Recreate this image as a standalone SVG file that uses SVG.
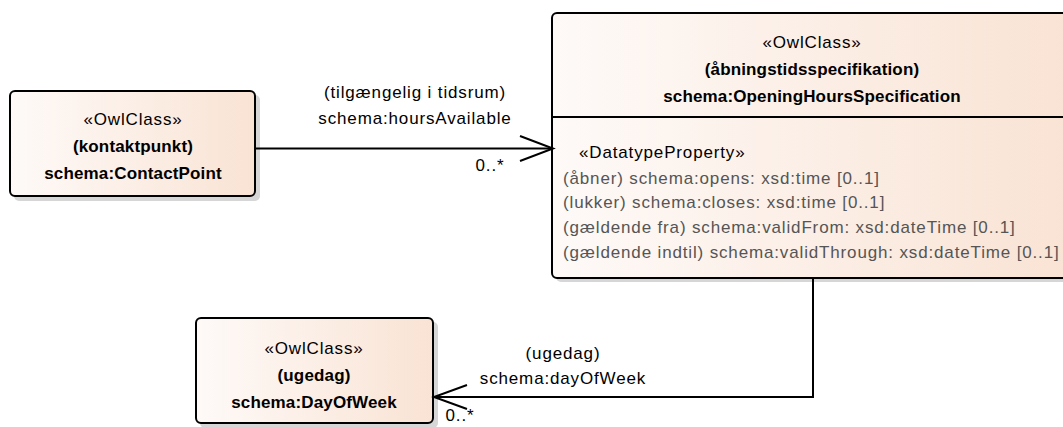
<svg xmlns="http://www.w3.org/2000/svg" width="1063" height="427" viewBox="0 0 1063 427">
<defs>
<linearGradient id="g" x1="0" y1="0" x2="1" y2="0">
<stop offset="0" stop-color="#fefaf8"/>
<stop offset="1" stop-color="#f9e3d4"/>
</linearGradient>
</defs>
<style>
text{font-family:"Liberation Sans",Arial,sans-serif;font-size:17px;fill:#000;letter-spacing:0.85px}
.b{font-weight:bold;letter-spacing:0.15px}
.c{text-anchor:middle}
.a{fill:#555555}
.box{fill:url(#g);stroke:#000;stroke-width:2}
.sh{fill:#d6d6d6}
.ln{fill:none;stroke:#000;stroke-width:2}
</style>
<g id="contactpoint">
<rect class="sh" x="14" y="95" width="246" height="106" rx="5"/>
<rect class="box" x="10" y="91" width="245" height="105" rx="5"/>
<text class="c" x="133" y="125">«OwlClass»</text>
<text class="c b" x="133" y="152">(kontaktpunkt)</text>
<text class="c b" x="133" y="179">schema:ContactPoint</text>
</g>
<g id="openinghours">
<rect class="sh" x="556" y="17" width="520" height="265" rx="5"/>
<rect class="box" x="552" y="13" width="520" height="265" rx="5"/>
<line class="ln" x1="552" y1="117" x2="1072" y2="117"/>
<text class="c" x="812" y="48">«OwlClass»</text>
<text class="c b" x="812" y="75">(åbningstidsspecifikation)</text>
<text class="c b" x="812" y="102">schema:OpeningHoursSpecification</text>
<text x="579" y="158">«DatatypeProperty»</text>
<text class="a" x="563" y="184">(åbner) schema:opens: xsd:time [0..1]</text>
<text class="a" x="563" y="208">(lukker) schema:closes: xsd:time [0..1]</text>
<text class="a" x="563" y="233">(gældende fra) schema:validFrom: xsd:dateTime [0..1]</text>
<text class="a" x="563" y="258">(gældende indtil) schema:validThrough: xsd:dateTime [0..1]</text>
</g>
<g id="dayofweek">
<rect class="sh" x="200" y="322" width="238" height="106" rx="5"/>
<rect class="box" x="196" y="318" width="237" height="105" rx="5"/>
<text class="c" x="314" y="354">«OwlClass»</text>
<text class="c b" x="314" y="381">(ugedag)</text>
<text class="c b" x="314" y="408">schema:DayOfWeek</text>
</g>
<g id="connectors">
<polyline class="ln" points="255,148.5 553,148.5"/>
<polyline class="ln" points="520,136 553,148.5 520,161"/>
<text class="c" x="415" y="98">(tilgængelig i tidsrum)</text>
<text class="c" x="415" y="124">schema:hoursAvailable</text>
<text class="c" x="490" y="171">0..*</text>
<polyline class="ln" points="813,278 813,397 433,397"/>
<polyline class="ln" points="467,385 434,397 467,409"/>
<text class="c" x="563" y="359">(ugedag)</text>
<text class="c" x="563" y="384">schema:dayOfWeek</text>
<text class="c" x="460" y="421">0..*</text>
</g>
</svg>
